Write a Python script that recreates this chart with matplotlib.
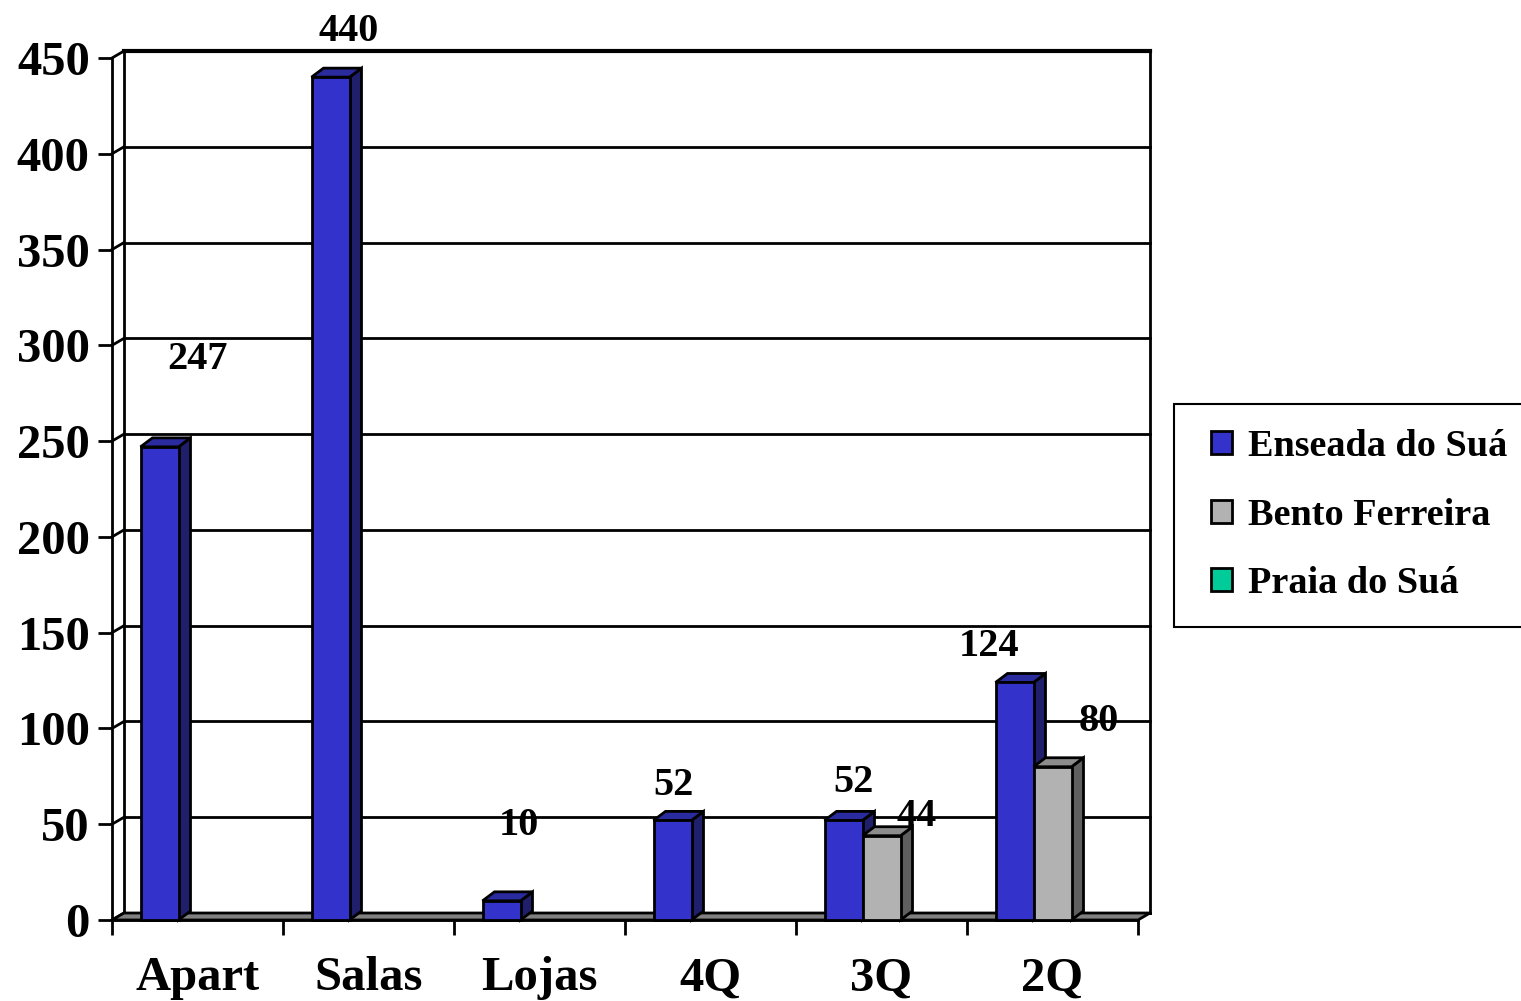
import numpy as np
import matplotlib.pyplot as plt
from matplotlib.patches import Patch, Polygon, Rectangle
from matplotlib.legend_handler import HandlerPatch

# Dados do grafico
categorias = ["Apart", "Salas", "Lojas", "4Q", "3Q", "2Q"]
bairros = ["Enseada do Suá", "Bento Ferreira", "Praia do Suá"]
enseada = [247, 440, 10, 52, 52, 124]
bento = [0, 0, 0, 0, 44, 80]
praia = [0, 0, 0, 0, 0, 0]
valores = [enseada, bento, praia]
y_ticks = np.arange(0, 451, 50)

# Cores: frente, lado, topo
cores = [("#3333CC", "#1F1F6B", "#2B2BA0"),
         ("#B2B2B2", "#5F5F5F", "#8C8C8C"),
         ("#00CC99", "#007A5C", "#00A37A")]

# deslocamento dos rotulos (pixels) em relacao ao topo de cada barra
rotulo_offset = {(0, 0): (38, 92), (1, 0): (18, 50), (2, 0): (17, 80),
                 (3, 0): (1, 39), (4, 0): (10, 42), (4, 1): (35, 24),
                 (5, 0): (-25, 40), (5, 1): (46, 50)}

fonte = "Liberation Serif"
W, H, DPI = 1521, 1001, 100
fig = plt.figure(figsize=(W / DPI, H / DPI), dpi=DPI)
ax_l, ax_b, ax_w, ax_h = 112, 81, 1026, 862  # pixels
ax = fig.add_axes([ax_l / W, ax_b / H, ax_w / W, ax_h / H])
n = len(categorias)
ax.set_xlim(0, n)
ax.set_ylim(0, 450)

px_x = ax_w / n      # pixels por categoria
px_y = ax_h / 450.0  # pixels por unidade
wdx, wdy = 12 / px_x, 7 / px_y    # profundidade das paredes
bdx, bdy = 12 / px_x, 9 / px_y    # profundidade das barras

# Parede de fundo e grade
ax.add_patch(Rectangle((wdx, wdy), n, 450, facecolor="white", edgecolor="black",
                       lw=2, clip_on=False, zorder=0))
for y in y_ticks:
    ax.plot([wdx, n + wdx], [y + wdy, y + wdy], color="black", lw=2, clip_on=False, zorder=1)
    ax.plot([0, wdx], [y, y + wdy], color="black", lw=2, clip_on=False, zorder=1)
ax.plot([wdx, n + wdx], [450 + wdy, 450 + wdy], color="black", lw=3, clip_on=False, zorder=1)

# Piso
ax.add_patch(Polygon([(0, 0), (n, 0), (n + wdx, wdy), (wdx, wdy)], closed=True,
                     facecolor="#808080", edgecolor="black", lw=2, clip_on=False, zorder=2))

# Barras 3D
w = 1.0 / (len(bairros) + 1.5)
inicio = 0.75 * w
z = 3
for i in range(n):
    for j, serie in enumerate(valores):
        v = serie[i]
        if v == 0:
            continue
        frente, lado, topo = cores[j]
        x0 = i + inicio + j * w
        ax.add_patch(Polygon([(x0 + w, 0), (x0 + w + bdx, bdy), (x0 + w + bdx, v + bdy), (x0 + w, v)],
                             facecolor=lado, edgecolor="black", lw=2, clip_on=False, zorder=z))
        ax.add_patch(Polygon([(x0, v), (x0 + bdx, v + bdy), (x0 + w + bdx, v + bdy), (x0 + w, v)],
                             facecolor=topo, edgecolor="black", lw=2, clip_on=False, zorder=z))
        ax.add_patch(Rectangle((x0, 0), w, v, facecolor=frente, edgecolor="black",
                               lw=2, clip_on=False, zorder=z + 1))
        z += 2
        dx, dy = rotulo_offset.get((i, j), (0, 30))
        ax.annotate(str(v), xy=(x0 + w / 2, v), xytext=(dx, dy - 14),
                    textcoords="offset pixels", ha="center", va="baseline",
                    fontsize=29, fontweight="bold", family=fonte, zorder=50,
                    annotation_clip=False)

# Eixos
for s in ["top", "right"]:
    ax.spines[s].set_visible(False)
for s in ["left", "bottom"]:
    ax.spines[s].set_linewidth(2)
    ax.spines[s].set_zorder(2.5)
ax.set_yticks(y_ticks)
ax.set_xticks(np.arange(n + 1))
ax.set_xticklabels([])
ax.set_xticks(np.arange(n) + 0.5, minor=True)
ax.set_xticklabels(categorias, minor=True)
ax.tick_params(axis="y", direction="out", length=10, width=2, pad=6,
               labelsize=35)
ax.tick_params(axis="x", which="major", direction="out", length=11, width=2)
ax.tick_params(axis="x", which="minor", length=0, pad=26, labelsize=35)
for lab in ax.get_yticklabels() + ax.get_xticklabels(minor=True):
    lab.set_family(fonte)
    lab.set_fontweight("bold")

# Legenda
handles = [Patch(facecolor=cores[j][0], edgecolor="black", lw=2, label=bairros[j])
           for j in range(len(bairros))]
leg = fig.legend(handles=handles, loc="upper left",
                 bbox_to_anchor=(1174 / W, 1 - 404 / H), borderaxespad=0,
                 prop={"family": fonte, "weight": "bold", "size": 27.5},
                 handlelength=0.85, handleheight=0.55, handletextpad=0.42,
                 borderpad=0.66, labelspacing=0.88, fancybox=False,
                 edgecolor="black", framealpha=1,
                 handler_map={Patch: HandlerPatch(xpad=0.3)})
leg.get_frame().set_linewidth(1.5)

fig.savefig("out.png", dpi=DPI)
